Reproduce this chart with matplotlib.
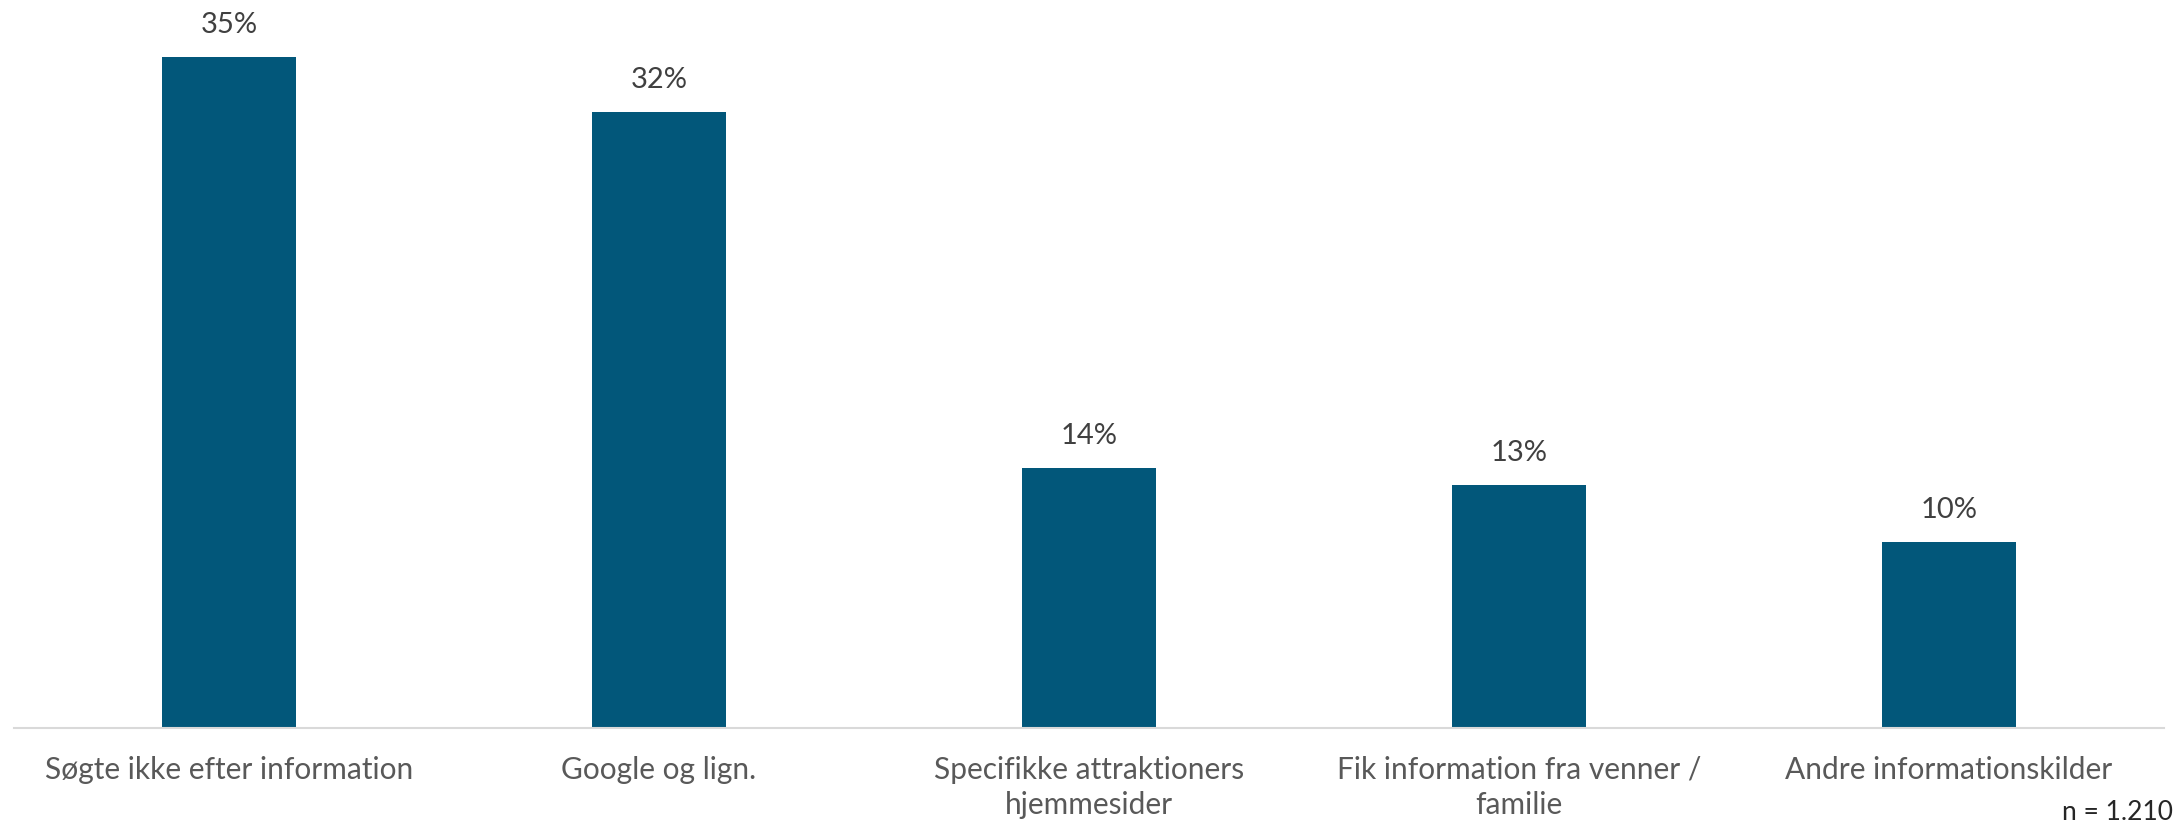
import matplotlib.pyplot as plt

categories = ["Søgte ikke efter information", "Google og lign.",
              "Specifikke attraktioners\nhjemmesider",
              "Fik information fra venner /\nfamilie",
              "Andre informationskilder"]
shares = [35.4, 32.49, 13.7, 12.8, 9.8]
sample_note = "n = 1.210"

plt.rcParams['font.family'] = ['Lato', 'DejaVu Sans']

fig = plt.figure(figsize=(21.75, 8.3), dpi=100)
ax = fig.add_axes([0.0064, 0.123, 0.9886, 0.877])

x = range(len(categories))
bars = ax.bar(x, shares, width=0.31, color="#02577A", zorder=2)

for b, v in zip(bars, shares):
    ax.text(b.get_x() + b.get_width() / 2, v + 1.0, f"{round(v):.0f}%",
            ha="center", va="bottom", fontsize=21, color="#404040")

ax.set_xlim(-0.5, len(categories) - 0.5)
ax.set_ylim(0, 38.4)
ax.set_xticks(list(x))
ax.set_xticklabels(categories, fontsize=21.5, color="#595959", linespacing=1.3)
ax.tick_params(axis="x", length=0, pad=20)
ax.set_yticks([])

for side in ["top", "right", "left"]:
    ax.spines[side].set_visible(False)
ax.spines["bottom"].set_color("#D9D9D9")
ax.spines["bottom"].set_linewidth(1.5)

# sample size in the bottom right corner
fig.text(0.999, 0.012, sample_note, ha="right", va="baseline",
         fontsize=19, color="#262626")

fig.savefig("out.png", dpi=100)
